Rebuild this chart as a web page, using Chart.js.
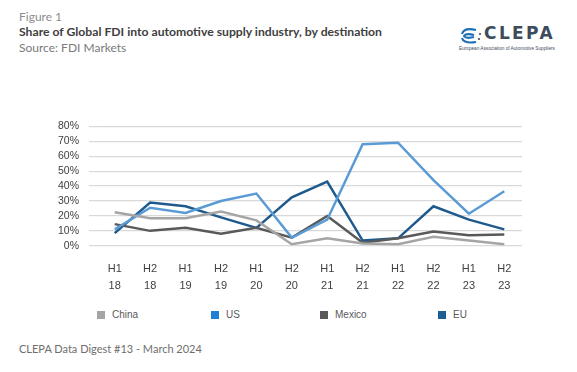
<!DOCTYPE html>
<html>
<head>
<meta charset="utf-8">
<script src="https://cdn.jsdelivr.net/npm/chart.js@4/dist/chart.umd.min.js"></script>
<style>
  body { margin: 0; background: #fff; width: 577px; height: 372px; position: relative; overflow: hidden; font-family: "Lato", sans-serif; }
  .fig { position: absolute; left: 19px; top: 9px; font-size: 12px; color: #8c8c8c; }
  .title { position: absolute; left: 19px; top: 24px; font-size: 12.2px; font-weight: bold; color: #404040; }
  .src { position: absolute; left: 19px; top: 40px; font-size: 12px; color: #7a7a7a; }
  .foot { position: absolute; left: 19px; top: 342px; font-size: 11px; color: #6e6e6e; }
  #wrap { position: absolute; left: 30px; top: 110px; width: 500px; height: 191px; }
  #legend { position: absolute; left: 0; top: 309px; width: 577px; height: 16px; font-family: "Liberation Sans", sans-serif; font-size: 10px; color: #595959; }
  #legend span.item { position: absolute; display: flex; align-items: center; }
  #legend i { display: inline-block; width: 8px; height: 8px; margin-right: 7px; }
  .logo { position: absolute; left: 458px; top: 27px; width: 100px; height: 28px; }
  .logo .name { position: absolute; left: 26px; top: -4px; font-size: 17px; font-weight: bold; letter-spacing: 2.4px; color: #3d4b5c; font-family: "DejaVu Sans", sans-serif; }
  .logo .sub { position: absolute; left: 1px; top: 19px; font-size: 4.7px; color: #3d4b5c; white-space: nowrap; font-family: "Liberation Sans", sans-serif; }
</style>
</head>
<body>
<div class="fig">Figure 1</div>
<div class="title">Share of Global FDI into automotive supply industry, by destination</div>
<div class="src">Source: FDI Markets</div>
<div class="logo">
  <svg width="26" height="18" style="position:absolute;left:0;top:0">
    <path d="M18 3 Q6 0 4 7" stroke="#1f6fb5" stroke-width="2.2" fill="none"/>
    <path d="M16 8 Q8 6 6 9 Q8 12 16 10" stroke="#1f6fb5" stroke-width="2.2" fill="none"/>
    <path d="M4 11 Q6 17 18 15" stroke="#1f6fb5" stroke-width="2.2" fill="none"/>
    <circle cx="22" cy="7" r="1.1" fill="#3d4b5c"/><circle cx="21" cy="12" r="1.1" fill="#3d4b5c"/>
  </svg>
  <div class="name">CLEPA</div>
  <div class="sub">European Association of Automotive Suppliers</div>
</div>
<div id="wrap"><canvas id="c"></canvas></div>
<div id="legend"></div>
<div class="foot">CLEPA Data Digest #13 - March 2024</div>
<script>
const periods = [['H1','18'],['H2','18'],['H1','19'],['H2','19'],['H1','20'],['H2','20'],
                 ['H1','21'],['H2','21'],['H1','22'],['H2','22'],['H1','23'],['H2','23']];
const seriesNames = ['China', 'US', 'Mexico', 'EU'];
const china  = [22.5, 18.5, 18.5, 23, 17, 1, 5, 1.5, 1, 6, 3.5, 1];
const us     = [11, 25.5, 22, 30, 35, 5.5, 17.5, 68, 69, 44, 21.5, 36.5];
const mexico = [14.5, 10, 12, 8, 12, 5.5, 20, 2, 5, 9.5, 7, 7.5];
const eu     = [8.5, 29, 26.5, 19, 12, 32.5, 43, 3.5, 5, 26.5, 17.5, 11];
const yTicks = [0, 10, 20, 30, 40, 50, 60, 70, 80];

const lineColors = ['#a5a5a5', '#5b9bd5', '#595959', '#1f5a8e'];
const legendColors = ['#a5a5a5', '#1f7fd4', '#595959', '#1f5c93'];
const values = [china, us, mexico, eu];

new Chart(document.getElementById('c'), {
  type: 'line',
  data: {
    labels: periods,
    datasets: seriesNames.map((n, i) => ({
      label: n,
      data: values[i],
      borderColor: lineColors[i],
      borderWidth: 2.5,
      pointRadius: 0,
      tension: 0,
      fill: false
    }))
  },
  options: {
    responsive: true,
    maintainAspectRatio: false,
    animation: false,
    layout: { padding: { top: 4, right: 8, left: 18 } },
    plugins: { legend: { display: false }, tooltip: { enabled: false } },
    scales: {
      x: {
        offset: true,
        grid: { display: false },
        border: { display: false },
        ticks: { color: '#404040', font: { family: 'Liberation Sans', size: 11, lineHeight: 1.6 }, maxRotation: 0, autoSkip: false, padding: 6 }
      },
      y: {
        min: 0, max: 80,
        afterBuildTicks: s => { s.ticks = yTicks.map(v => ({ value: v })); },
        grid: { color: '#d9d9d9', lineWidth: 1.2 },
        border: { display: false },
        ticks: { color: '#404040', font: { family: 'Liberation Sans', size: 10.5 }, padding: 10, autoSkip: false, callback: v => v + '%' }
      }
    }
  }
});

const legendX = [97, 211, 320, 438];
const lg = document.getElementById('legend');
seriesNames.forEach((n, i) => {
  const s = document.createElement('span');
  s.className = 'item';
  s.style.left = legendX[i] + 'px';
  s.innerHTML = '<i style="background:' + legendColors[i] + '"></i>' + n;
  lg.appendChild(s);
});
</script>
</body>
</html>
